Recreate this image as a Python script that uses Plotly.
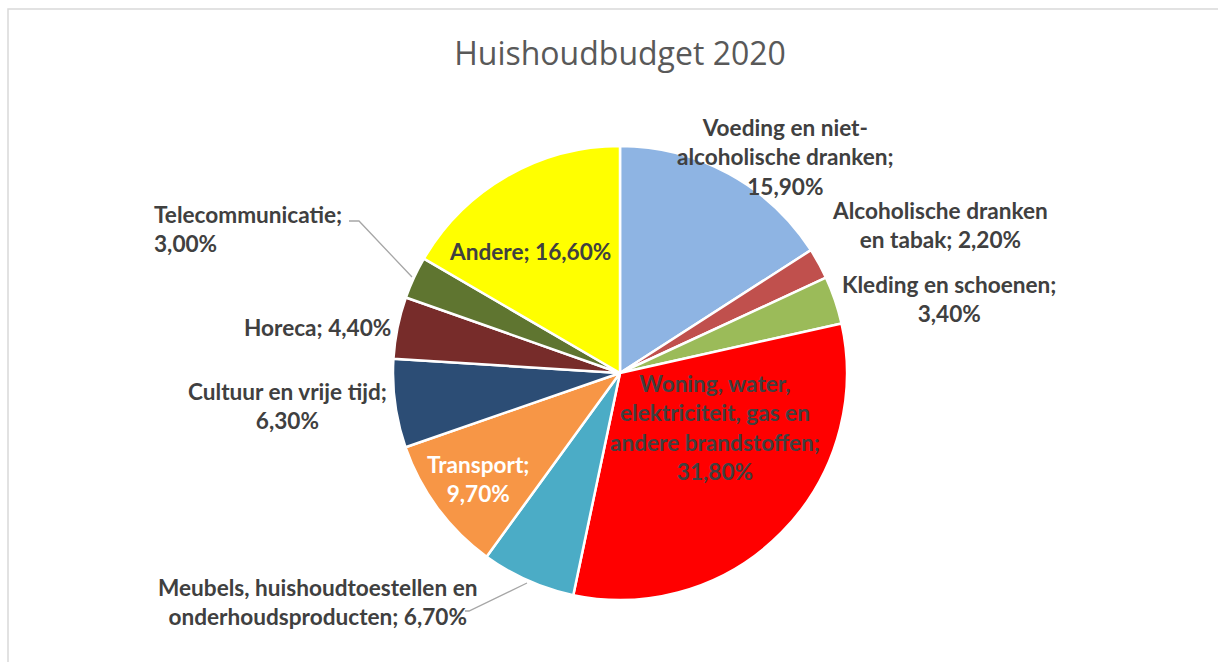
import plotly.graph_objects as go

W, H = 1218, 662

categories = [
    "Voeding en niet-alcoholische dranken",
    "Alcoholische dranken en tabak",
    "Kleding en schoenen",
    "Woning, water, elektriciteit, gas en andere brandstoffen",
    "Meubels, huishoudtoestellen en onderhoudsproducten",
    "Transport",
    "Cultuur en vrije tijd",
    "Horeca",
    "Telecommunicatie",
    "Andere",
]
values = [15.9, 2.2, 3.4, 31.8, 6.7, 9.7, 6.3, 4.4, 3.0, 16.6]

# wrapped display names for the data labels
label_names = [
    "Voeding en niet-<br>alcoholische dranken;",
    "Alcoholische dranken<br>en tabak;",
    "Kleding en schoenen;",
    "Woning, water,<br>elektriciteit, gas en<br>andere brandstoffen;",
    "Meubels, huishoudtoestellen en<br>onderhoudsproducten;",
    "Transport;",
    "Cultuur en vrije tijd;",
    "Horeca;",
    "Telecommunicatie;",
    "Andere;",
]
label_seps = ["<br>", " ", "<br>", "<br>", " ", "<br>", "<br>", " ", "<br>", " "]

colors = ["#8EB4E3", "#C0504D", "#9BBB59", "#FF0000", "#4BACC6",
          "#F79646", "#2C4D75", "#772C2A", "#5F7530", "#FFFF00"]

# label placement (pixel centres) and styles
label_pos = [(785, 157), (940, 225), (949, 299), (715, 427), (317, 602),
             (478, 479), (287, 406), (317, 327), (152, 229), (530, 252)]
label_anchor = ["center"] * 8 + ["left", "center"]
label_colors = ["#404040"] * 5 + ["#FFFFFF"] + ["#404040"] * 4

cx, cy, r = 620, 373, 227


def px(x):
    return x / W


def py(y):
    return 1 - y / H


fig = go.Figure(go.Pie(
    labels=categories,
    values=values,
    sort=False,
    direction="clockwise",
    rotation=0,
    marker=dict(colors=colors, line=dict(color="white", width=2.5)),
    textinfo="none",
    hoverinfo="label+percent",
    domain=dict(x=[px(cx - r), px(cx + r)], y=[py(cy + r), py(cy - r)]),
    showlegend=False,
))

annotations = []
for name, sep, v, (x, y), anc, col in zip(label_names, label_seps, values,
                                          label_pos, label_anchor, label_colors):
    txt = name + sep + f"{v:.2f}".replace(".", ",") + "%"
    annotations.append(dict(
        x=px(x), y=py(y), xref="paper", yref="paper",
        text=txt, showarrow=False, xanchor=anc, yanchor="middle",
        align=anc, font=dict(family="Lato", size=22.6, color=col, weight="bold"),
    ))

shapes = [
    # outer chart border
    dict(type="rect", xref="paper", yref="paper",
         x0=px(8), x1=px(1240), y0=py(700), y1=py(9),
         line=dict(color="#D9D9D9", width=1.5), fillcolor="rgba(0,0,0,0)"),
    # leader lines
    dict(type="path", xref="paper", yref="paper",
         path=f"M {px(349)},{py(221)} L {px(359)},{py(221)} L {px(412)},{py(277)}",
         line=dict(color="#A6A6A6", width=1.3)),
    dict(type="path", xref="paper", yref="paper",
         path=f"M {px(465)},{py(611)} L {px(469)},{py(611)} L {px(527)},{py(583)}",
         line=dict(color="#A6A6A6", width=1.3)),
]

fig.update_layout(
    width=W, height=H,
    margin=dict(l=0, r=0, t=0, b=0),
    paper_bgcolor="white",
    title=dict(text="Huishoudbudget 2020", x=620 / W, xanchor="center",
               y=1 - 54 / H, yanchor="middle",
               font=dict(family="Open Sans", size=32, color="#595959")),
    annotations=annotations,
    shapes=shapes,
)

fig.write_html("out.html", config={"displayModeBar": False},
               post_script="document.body.style.margin='0';document.body.style.overflow='hidden';")
